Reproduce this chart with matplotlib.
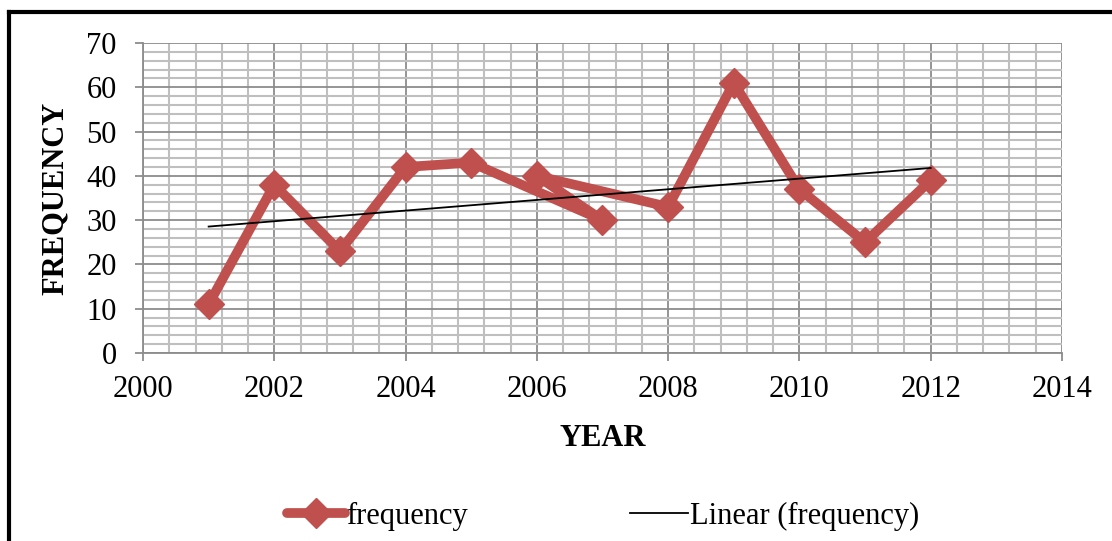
import numpy as np
import matplotlib.pyplot as plt
from matplotlib.lines import Line2D
from matplotlib.ticker import MultipleLocator

plt.rcParams['font.family'] = ['Liberation Serif', 'DejaVu Serif']

# data in the order it was entered (2007 comes before 2006)
years = [2001, 2002, 2003, 2004, 2005, 2007, 2006, 2008, 2009, 2010, 2011, 2012]
frequency = [11, 38, 23, 42, 43, 30, 40, 33, 61, 37, 25, 39]

red = '#C0504D'

fig = plt.figure(figsize=(11.12, 5.41), dpi=100)
ax = fig.add_axes([0.1286, 0.3475, 0.955 - 0.1286, 0.9205 - 0.3475])

# linear trendline, same as Excel's
slope, intercept = np.polyfit(years, frequency, 1)
tx = np.array([min(years), max(years)])

ax.plot(years, frequency, color=red, lw=7, marker='D', ms=15,
        solid_joinstyle='round', solid_capstyle='round', zorder=3,
        label='frequency')
ax.plot(tx, slope * tx + intercept, color='black', lw=1.3, zorder=4,
        label='Linear (frequency)')

ax.set_xlim(2000, 2014)
ax.set_ylim(0, 70)
ax.xaxis.set_major_locator(MultipleLocator(2))
ax.xaxis.set_minor_locator(MultipleLocator(0.4))
ax.yaxis.set_major_locator(MultipleLocator(10))
ax.yaxis.set_minor_locator(MultipleLocator(2))

ax.grid(which='minor', color='#BFBFBF', lw=1.5, zorder=0)
ax.grid(which='major', color='#8C8C8C', lw=1.3, zorder=1)
ax.set_axisbelow(True)

for side in ['top', 'right']:
    ax.spines[side].set_visible(False)
for side in ['left', 'bottom']:
    ax.spines[side].set_color('#8C8C8C')
    ax.spines[side].set_linewidth(1.3)

ax.tick_params(which='major', direction='out', length=6, width=1.3,
               color='#8C8C8C', labelsize=22)
ax.tick_params(axis='x', which='major', pad=10)
ax.tick_params(axis='y', which='major', pad=13)
ax.tick_params(which='minor', length=0)

ax.set_xlabel('YEAR', fontsize=22, fontweight='bold', labelpad=14)
ax.set_ylabel('FREQUENCY', fontsize=22, fontweight='bold', labelpad=12)

fig.legend(loc='center', bbox_to_anchor=(0.542, 0.045), ncol=2, frameon=False,
           fontsize=22, handlelength=1.9, handletextpad=0.05,
           columnspacing=5.3)

# outer chart border
fig.add_artist(Line2D([9 / 1112, 9 / 1112], [0, 1 - 12 / 541], color='black',
                      lw=3, transform=fig.transFigure))
fig.add_artist(Line2D([9 / 1112, 1], [1 - 12 / 541, 1 - 12 / 541],
                      color='black', lw=3, transform=fig.transFigure))

fig.savefig('out.png', dpi=100)
